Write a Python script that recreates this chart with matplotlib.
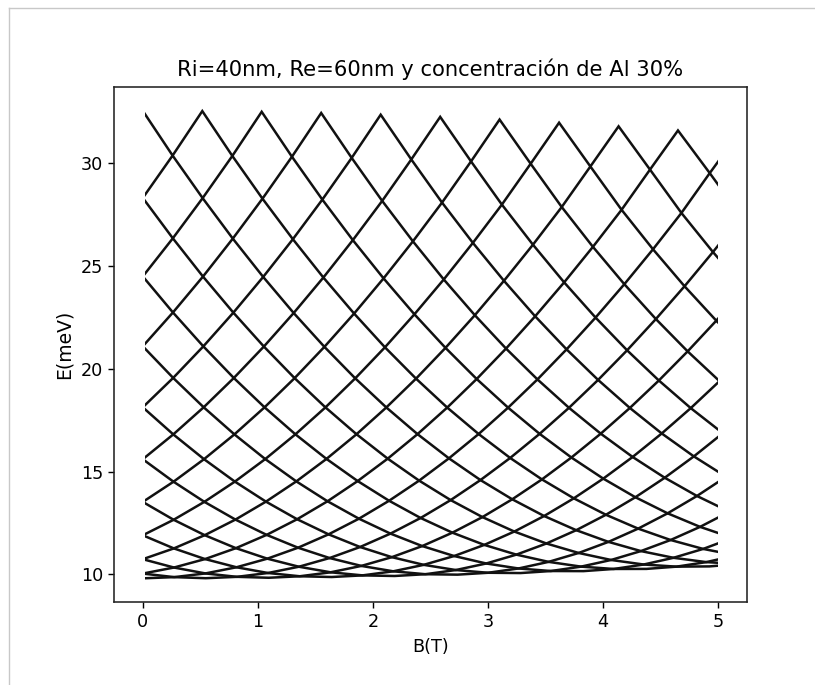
import matplotlib
matplotlib.use("Agg")
import matplotlib.pyplot as plt
from matplotlib.patches import Rectangle
from matplotlib.lines import Line2D

# ---------------- data ----------------
title = "Ri=40nm, Re=60nm y concentración de Al 30%"
x_label = "B(T)"
y_label = "E(meV)"
x_ticks = [0, 1, 2, 3, 4, 5]
y_ticks = [10, 15, 20, 25, 30]
b_range = [0.017, 5.0]          # field range covered by the computed levels

# Crossing nodes of the spectrum, grouped by height in the lattice
# (row 0 = bottom of the lowest level ... row 20 = top peaks).
# Each sorted level k runs zig-zag between the nodes of row k and row k+1.
node_B = [
    [0.000, 0.547, 1.094, 1.641, 2.188, 2.735, 3.282, 3.829, 4.376, 4.923, 5.470],
    [0.273, 0.818, 1.364, 1.909, 2.455, 3.000, 3.546, 4.092, 4.637, 5.182],
    [0.000, 0.544, 1.088, 1.632, 2.176, 2.720, 3.264, 3.808, 4.352, 4.896, 5.440],
    [0.271, 0.814, 1.356, 1.899, 2.441, 2.984, 3.526, 4.069, 4.611, 5.154],
    [0.000, 0.541, 1.082, 1.623, 2.164, 2.705, 3.246, 3.787, 4.328, 4.869, 5.410],
    [0.270, 0.809, 1.349, 1.888, 2.428, 2.967, 3.507, 4.046, 4.586, 5.125],
    [0.000, 0.538, 1.076, 1.614, 2.152, 2.690, 3.228, 3.766, 4.304, 4.842, 5.380],
    [0.268, 0.805, 1.341, 1.878, 2.414, 2.951, 3.487, 4.024, 4.560, 5.097],
    [0.000, 0.535, 1.070, 1.605, 2.140, 2.675, 3.210, 3.745, 4.280, 4.815, 5.350],
    [0.267, 0.800, 1.334, 1.867, 2.401, 2.934, 3.468, 4.001, 4.535, 5.068],
    [0.000, 0.532, 1.064, 1.596, 2.128, 2.660, 3.192, 3.724, 4.256, 4.788, 5.320],
    [0.265, 0.796, 1.326, 1.857, 2.387, 2.918, 3.448, 3.979, 4.509, 5.040],
    [0.000, 0.529, 1.058, 1.587, 2.116, 2.645, 3.174, 3.703, 4.232, 4.761, 5.290],
    [0.264, 0.791, 1.319, 1.846, 2.374, 2.901, 3.429, 3.956, 4.484, 5.011],
    [0.000, 0.526, 1.052, 1.578, 2.104, 2.630, 3.156, 3.682, 4.208, 4.734, 5.260],
    [0.262, 0.787, 1.311, 1.836, 2.360, 2.885, 3.409, 3.934, 4.458, 4.983, 5.507],
    [0.000, 0.523, 1.046, 1.569, 2.092, 2.615, 3.138, 3.661, 4.184, 4.707, 5.230],
    [0.261, 0.782, 1.304, 1.825, 2.347, 2.868, 3.390, 3.911, 4.433, 4.954, 5.476],
    [0.000, 0.520, 1.040, 1.560, 2.080, 2.600, 3.120, 3.640, 4.160, 4.680, 5.200],
    [0.259, 0.778, 1.296, 1.815, 2.333, 2.852, 3.370, 3.889, 4.407, 4.926, 5.444],
    [0.000, 0.517, 1.033, 1.550, 2.067, 2.584, 3.100, 3.617, 4.134, 4.650, 5.167],
]
node_E = [
    [9.800, 9.807, 9.829, 9.865, 9.915, 9.980, 10.058, 10.152, 10.260, 10.382, 10.518],
    [9.860, 9.874, 9.902, 9.945, 10.002, 10.072, 10.157, 10.257, 10.370, 10.498],
    [10.033, 10.040, 10.061, 10.095, 10.143, 10.205, 10.281, 10.371, 10.474, 10.591, 10.722],
    [10.327, 10.340, 10.366, 10.406, 10.458, 10.524, 10.603, 10.695, 10.801, 10.919],
    [10.733, 10.739, 10.758, 10.789, 10.832, 10.887, 10.955, 11.036, 11.128, 11.233, 11.351],
    [11.258, 11.270, 11.292, 11.326, 11.372, 11.429, 11.497, 11.576, 11.667, 11.769],
    [11.897, 11.902, 11.917, 11.943, 11.978, 12.024, 12.079, 12.145, 12.221, 12.307, 12.404],
    [12.652, 12.661, 12.678, 12.704, 12.739, 12.783, 12.835, 12.896, 12.966, 13.045],
    [13.521, 13.525, 13.535, 13.553, 13.578, 13.610, 13.649, 13.696, 13.749, 13.810, 13.878],
    [14.505, 14.510, 14.521, 14.537, 14.558, 14.585, 14.617, 14.655, 14.698, 14.746],
    [15.600, 15.602, 15.607, 15.615, 15.627, 15.643, 15.661, 15.683, 15.709, 15.738, 15.770],
    [16.808, 16.809, 16.812, 16.816, 16.821, 16.827, 16.835, 16.844, 16.854, 16.866],
    [18.128, 18.128, 18.126, 18.123, 18.120, 18.115, 18.110, 18.103, 18.095, 18.087, 18.077],
    [19.558, 19.554, 19.547, 19.537, 19.523, 19.505, 19.485, 19.460, 19.432, 19.401],
    [21.097, 21.094, 21.085, 21.070, 21.048, 21.021, 20.987, 20.948, 20.902, 20.850, 20.792],
    [22.744, 22.735, 22.717, 22.691, 22.655, 22.611, 22.558, 22.495, 22.424, 22.345, 22.256],
    [24.498, 24.492, 24.474, 24.445, 24.404, 24.351, 24.286, 24.209, 24.120, 24.020, 23.908],
    [26.355, 26.340, 26.311, 26.266, 26.207, 26.132, 26.043, 25.939, 25.820, 25.686, 25.538],
    [28.320, 28.311, 28.284, 28.239, 28.175, 28.094, 27.995, 27.877, 27.742, 27.588, 27.417],
    [30.383, 30.364, 30.326, 30.269, 30.193, 30.098, 29.984, 29.851, 29.699, 29.528, 29.338],
    [32.560, 32.548, 32.513, 32.454, 32.371, 32.265, 32.135, 31.982, 31.805, 31.604, 31.380],
]

# ---------------- figure ----------------
S = 1.27  # the reference is an enlarged default-style matplotlib figure
fig = plt.figure(figsize=(8.15, 6.85), dpi=100)
fig.patch.set_facecolor("white")
ax = fig.add_axes([0.1399, 0.1212, 0.7767, 0.7518])

clip = Rectangle((b_range[0], 0), b_range[1] - b_range[0], 100,
                 transform=ax.transData, facecolor="none", edgecolor="none")
ax.add_patch(clip)

for k in range(len(node_B) - 1):
    pts = sorted(zip(node_B[k] + node_B[k + 1], node_E[k] + node_E[k + 1]))
    xs = [p[0] for p in pts]
    ys = [p[1] for p in pts]
    ln, = ax.plot(xs, ys, color="#111111", lw=1.8, solid_joinstyle="miter")
    ln.set_clip_path(clip)

ax.set_xlim(-0.25, 5.25)
ax.set_ylim(8.65, 33.72)
ax.set_xticks(x_ticks)
ax.set_yticks(y_ticks)
ax.tick_params(labelsize=10 * S, length=3.5 * S, width=0.8 * S)
for sp in ax.spines.values():
    sp.set_linewidth(0.9 * S)
    sp.set_color("#222222")

ax.set_title(title, fontsize=12 * S, pad=6 * S)
ax.set_xlabel(x_label, fontsize=10 * S, labelpad=4 * S)
ax.set_ylabel(y_label, fontsize=13.5, labelpad=4 * S)

# light grey frame of the screenshot (top and left edges)
fig.add_artist(Line2D([9 / 815, 9 / 815], [0, 1 - 8 / 685], transform=fig.transFigure,
                      color="#c8c8c8", lw=1.0))
fig.add_artist(Line2D([9 / 815, 1], [1 - 8 / 685, 1 - 8 / 685], transform=fig.transFigure,
                      color="#c8c8c8", lw=1.0))

fig.savefig("out.png", dpi=100, facecolor="white")
